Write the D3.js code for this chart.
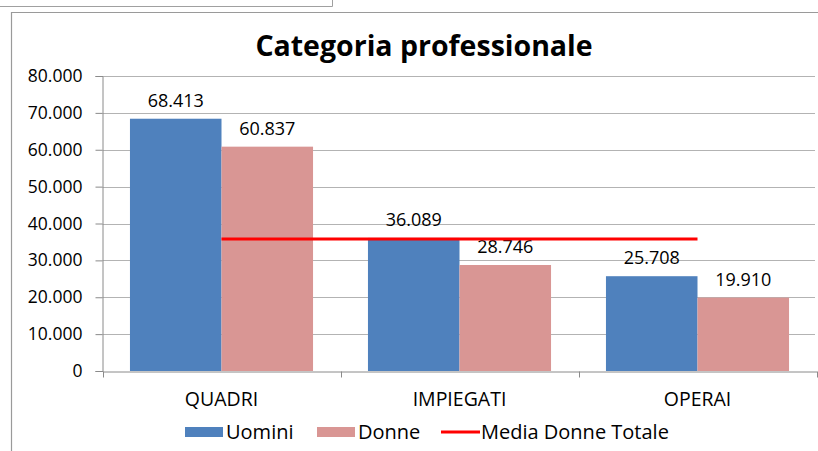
<!DOCTYPE html>
<html>
<head>
<meta charset="utf-8">
<script src="https://cdn.jsdelivr.net/npm/d3@7"></script>
<style>
  body { margin: 0; background: #fff; }
  svg { display: block; font-family: "Open Sans", sans-serif; }
</style>
</head>
<body>
<svg id="chart" width="818" height="451"></svg>
<script>
// Data
const categories = ["QUADRI", "IMPIEGATI", "OPERAI"];
const seriesNames = ["Uomini", "Donne"];
const uomini = [68413, 36089, 25708];
const donne = [60837, 28746, 19910];
const mediaDonneTotale = [35800, 35800, 35800];
const yTicks = [0, 10000, 20000, 30000, 40000, 50000, 60000, 70000, 80000];

const palette = { Uomini: "#4F81BD", Donne: "#D99694" };
const lineColor = "#FF0000";

const svg = d3.select("#chart");

// frame bits around the chart (pasted from a spreadsheet)
svg.append("path")
  .attr("d", "M0,6.5H332.5V0")
  .attr("fill", "none").attr("stroke", "#a0a0a0").attr("stroke-width", 1);
svg.append("path")
  .attr("d", "M11.5,460V12.5H830")
  .attr("fill", "none").attr("stroke", "#9a9a9a").attr("stroke-width", 1.2);

const plot = { left: 102.5, right: 816.5, top: 76, bottom: 371 };

const x0 = d3.scaleBand()
  .domain(categories)
  .range([plot.left, plot.right])
  .padding(0);

const x1 = d3.scaleBand()
  .domain(seriesNames)
  .range([0, x0.bandwidth()])
  .paddingInner(0)
  .paddingOuter(0.3);

const y = d3.scaleLinear()
  .domain([0, 80000])
  .range([plot.bottom, plot.top]);

const fmt = d3.formatLocale({ decimal: ",", thousands: ".", grouping: [3], currency: ["€", ""] }).format(",d");

// Title
svg.append("text")
  .attr("x", 424)
  .attr("y", 56)
  .attr("text-anchor", "middle")
  .style("font-size", "28.5px")
  .style("font-weight", "bold")
  .attr("fill", "#000")
  .text("Categoria professionale");

// gridlines
svg.append("g")
  .selectAll("line")
  .data(yTicks.slice(1))
  .join("line")
  .attr("x1", plot.left)
  .attr("x2", 815)
  .attr("y1", d => Math.round(y(d)) + 0.5)
  .attr("y2", d => Math.round(y(d)) + 0.5)
  .attr("stroke", "#b3b3b3")
  .attr("stroke-width", 1);

// y axis
const yAxis = svg.append("g")
  .attr("transform", `translate(${plot.left},0)`)
  .call(d3.axisLeft(y).tickValues(yTicks).tickFormat(fmt).tickSize(7).tickPadding(13));
yAxis.select(".domain").attr("stroke", "#8a8a8a");
yAxis.selectAll(".tick line").attr("stroke", "#8a8a8a");
yAxis.selectAll(".tick text")
  .style("font-size", "17.5px")
  .style("font-family", "Open Sans, sans-serif")
  .attr("fill", "#000");

// bars
const groups = svg.append("g")
  .selectAll("g")
  .data(categories.map((c, i) => ({ cat: c, values: [
    { key: "Uomini", value: uomini[i] },
    { key: "Donne", value: donne[i] }
  ] })))
  .join("g")
  .attr("transform", d => `translate(${x0(d.cat)},0)`);

groups.selectAll("rect")
  .data(d => d.values)
  .join("rect")
  .attr("x", d => x1(d.key))
  .attr("y", d => y(d.value))
  .attr("width", x1.bandwidth())
  .attr("height", d => y(0) - y(d.value))
  .attr("fill", d => palette[d.key]);

// value labels
groups.selectAll("text")
  .data(d => d.values)
  .join("text")
  .attr("x", d => x1(d.key) + x1.bandwidth() / 2)
  .attr("y", d => y(d.value) - 12)
  .attr("text-anchor", "middle")
  .style("font-size", "18px")
  .attr("fill", "#000")
  .text(d => fmt(d.value));

// x axis
const xAxis = svg.append("g")
  .attr("transform", `translate(0,${plot.bottom + 0.5})`)
  .call(d3.axisBottom(x0).tickSize(0).tickPadding(21));
xAxis.select(".domain").attr("stroke", "#8a8a8a");
xAxis.selectAll(".tick text")
  .style("font-size", "19.5px")
  .style("font-family", "Open Sans, sans-serif")
  .attr("fill", "#000");
// category boundary ticks
xAxis.selectAll(".sep")
  .data(categories.map(c => x0(c)).concat([x0(categories[categories.length - 1]) + x0.bandwidth()]))
  .join("line")
  .attr("class", "sep")
  .attr("x1", d => Math.round(d) + 0.5)
  .attr("x2", d => Math.round(d) + 0.5)
  .attr("y1", 0)
  .attr("y2", 6)
  .attr("stroke", "#8a8a8a");

// mean line
const line = d3.line()
  .x((d, i) => x0(categories[i]) + x0.bandwidth() / 2)
  .y(d => y(d));
svg.append("path")
  .datum(mediaDonneTotale)
  .attr("d", line)
  .attr("fill", "none")
  .attr("stroke", lineColor)
  .attr("stroke-width", 3);

// legend
const legendItems = [
  { name: "Uomini", type: "rect", color: palette.Uomini, x: 185 },
  { name: "Donne", type: "rect", color: palette.Donne, x: 317 },
  { name: "Media Donne Totale", type: "line", color: lineColor, x: 441 }
];
const legend = svg.append("g").attr("transform", "translate(0,427)");
const item = legend.selectAll("g")
  .data(legendItems)
  .join("g")
  .attr("transform", d => `translate(${d.x},0)`);
item.filter(d => d.type === "rect")
  .append("rect")
  .attr("width", 38).attr("height", 10)
  .attr("fill", d => d.color);
item.filter(d => d.type === "line")
  .append("line")
  .attr("x1", 0).attr("x2", 39)
  .attr("y1", 5).attr("y2", 5)
  .attr("stroke", d => d.color)
  .attr("stroke-width", 3);
item.append("text")
  .attr("x", d => d.type === "rect" ? 41 : 40)
  .attr("y", 12)
  .style("font-size", "20px")
  .attr("fill", "#000")
  .text(d => d.name);
</script>
</body>
</html>
